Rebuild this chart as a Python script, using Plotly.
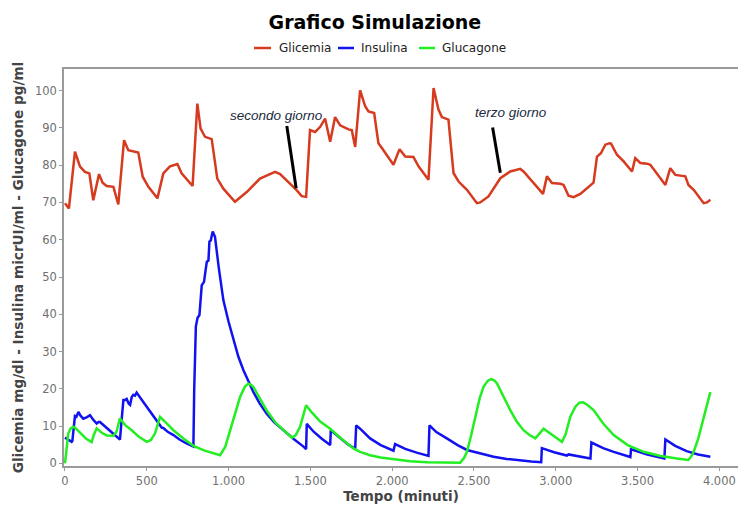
import plotly.graph_objects as go

# ---------------- data ----------------
t_gli = [0, 24, 61, 92, 122, 149, 173, 208, 230, 255, 296, 326, 361, 387, 448, 475, 510, 565, 601, 642,
         687, 713, 780, 809, 829, 856, 897, 931, 968, 1009, 1039, 1111, 1192, 1284, 1315, 1416, 1447, 1474,
         1498, 1529, 1560, 1590, 1621, 1651, 1682, 1733, 1753, 1774, 1804, 1835, 1855, 1890, 1916, 1937,
         2008, 2045, 2080, 2130, 2161, 2222, 2253, 2283, 2304, 2344, 2375, 2406, 2457, 2518, 2538, 2589,
         2661, 2722, 2783, 2803, 2864, 2922, 2946, 2977, 3028, 3048, 3078, 3109, 3150, 3211, 3231, 3252,
         3276, 3303, 3329, 3338, 3374, 3415, 3466, 3486, 3517, 3558, 3578, 3609, 3670, 3700, 3731, 3792,
         3811, 3843, 3904, 3924, 3945]
glicemia = [69.8, 68.4, 83.6, 79.6, 78.2, 77.8, 70.6, 77.6, 75.3, 74.4, 74.2, 69.5, 86.7, 84.0, 83.4, 76.9,
            74.2, 71.1, 77.8, 79.7, 80.3, 77.8, 74.4, 96.5, 89.8, 87.6, 87.0, 76.4, 73.7, 71.5, 70.2, 72.8,
            76.4, 78.2, 77.6, 73.3, 71.7, 71.5, 89.4, 88.9, 90.3, 92.5, 86.3, 92.9, 90.7, 89.6, 89.4, 84.9,
            100.1, 95.8, 94.4, 94.0, 85.9, 84.6, 80.1, 84.3, 82.3, 82.2, 79.7, 76.1, 100.7, 94.9, 92.9, 92.2,
            77.9, 75.6, 73.4, 69.8, 70.0, 71.6, 76.5, 78.3, 79.0, 78.3, 75.2, 72.3, 77.0, 75.2, 75.0, 74.7,
            71.8, 71.4, 72.3, 74.7, 75.3, 82.3, 83.2, 85.5, 85.9, 85.8, 82.8, 81.0, 78.3, 81.9, 80.6, 80.4,
            80.1, 78.3, 74.7, 79.2, 77.4, 77.0, 74.7, 73.4, 69.8, 70.0, 70.7]

t_ins = [0, 20, 41, 45, 55, 61, 70, 82, 95, 112, 135, 153, 175, 194, 205, 214, 245, 275, 305, 336, 345,
         357, 368, 377, 390, 398, 408, 418, 428, 438, 470, 500, 540, 581, 591, 601, 630, 663, 700, 740, 785,
         790, 800, 810, 822, 836, 850, 860, 867, 877, 883, 891, 903, 910, 917, 940, 968, 1000, 1029, 1060,
         1091, 1120, 1152, 1190, 1233, 1280, 1335, 1400, 1458, 1474, 1478, 1520, 1570, 1621, 1625, 1680,
         1730, 1774, 1780, 1804, 1865, 1930, 2008, 2018, 2080, 2150, 2222, 2228, 2270, 2334, 2400, 2457,
         2540, 2620, 2700, 2783, 2850, 2911, 2915, 2990, 3068, 3078, 3150, 3212, 3218, 3290, 3354, 3410,
         3456, 3460, 3560, 3664, 3670, 3730, 3800, 3870, 3945]
insulina = [6.9, 6.3, 5.8, 6.0, 11.5, 12.7, 12.5, 13.8, 12.8, 12.0, 12.4, 12.9, 11.6, 10.7, 11.1, 11.1,
            9.9, 8.8, 7.6, 6.4, 11.0, 17.0, 17.0, 17.3, 16.0, 15.7, 17.8, 18.4, 18.2, 19.0, 17.0, 15.2,
            12.6, 10.1, 9.6, 9.5, 8.4, 7.6, 6.4, 5.4, 4.5, 20.0, 36.7, 39.0, 39.8, 47.8, 48.7, 52.0, 54.1,
            54.4, 59.5, 59.8, 62.2, 61.5, 60.8, 52.5, 43.8, 38.0, 33.1, 28.6, 25.0, 22.0, 19.1, 16.1, 13.3,
            11.0, 8.9, 6.5, 4.5, 3.8, 10.6, 8.5, 6.6, 4.9, 8.9, 6.8, 5.1, 3.9, 10.2, 9.3, 6.7, 4.9, 3.4,
            5.2, 3.9, 2.9, 2.0, 10.2, 8.4, 6.7, 4.9, 3.6, 2.6, 1.8, 1.2, 0.7, 0.5, 0.3, 4.1, 3.0, 2.1, 2.4,
            1.8, 1.3, 5.6, 4.1, 3.1, 2.3, 1.7, 3.8, 2.4, 1.3, 6.4, 4.7, 3.3, 2.4, 1.8]

t_glu = [0, 10, 20, 35, 51, 61, 90, 130, 163, 175, 194, 225, 255, 296, 315, 336, 345, 370, 408, 450, 500,
         525, 550, 568, 581, 620, 663, 720, 785, 850, 920, 948, 980, 1009, 1040, 1070, 1100, 1121, 1140,
         1152, 1190, 1233, 1290, 1356, 1387, 1410, 1437, 1474, 1510, 1560, 1621, 1690, 1763, 1804, 1865,
         1930, 2008, 2110, 2212, 2320, 2416, 2440, 2457, 2480, 2508, 2535, 2559, 2585, 2606, 2625, 2640,
         2680, 2722, 2760, 2803, 2840, 2875, 2900, 2926, 2960, 3000, 3038, 3060, 3089, 3120, 3145, 3166,
         3190, 3231, 3290, 3354, 3440, 3537, 3640, 3741, 3790, 3811, 3830, 3843, 3870, 3894, 3920, 3945]
glucagone = [0.0, 5.0, 8.0, 9.4, 9.8, 9.6, 8.3, 6.6, 5.7, 7.5, 9.4, 8.2, 7.5, 7.4, 8.5, 12.1, 11.5, 10.2,
             8.9, 7.2, 5.8, 6.3, 8.0, 11.0, 12.5, 10.8, 8.9, 6.8, 4.7, 3.5, 2.5, 2.2, 4.5, 8.9, 13.5, 17.8,
             20.6, 21.4, 21.0, 20.5, 17.5, 14.2, 10.8, 8.0, 6.9, 7.5, 9.8, 15.6, 13.6, 11.2, 9.3, 6.6, 4.0,
             3.1, 2.2, 1.6, 1.1, 0.6, 0.3, 0.2, 0.2, 1.5, 3.1, 7.0, 12.5, 17.5, 20.6, 22.2, 22.6, 22.2, 21.5,
             17.8, 14.3, 11.3, 8.9, 7.6, 6.7, 8.0, 9.3, 8.2, 7.0, 5.8, 7.8, 12.5, 15.2, 16.3, 16.4, 15.8,
             14.3, 10.7, 7.6, 4.9, 3.1, 2.0, 1.3, 1.0, 0.9, 2.0, 3.1, 6.5, 10.7, 14.8, 19.1]

series_names = ["Glicemia", "Insulina", "Glucagone"]
series_colors = ["#d63a1f", "#1212f0", "#22ee22"]

x_tickvals = [0, 500, 1000, 1500, 2000, 2500, 3000, 3500, 4000]
x_ticktext = ["0", "500", "1.000", "1.500", "2.000", "2.500", "3.000", "3.500", "4.000"]
y_tickvals = [0, 10, 20, 30, 40, 50, 60, 70, 80, 90, 100]

note_texts = ["secondo giorno", "terzo giorno"]
note_pos = [(1292, 93.4), (2726, 94.0)]
note_lines = [((1356, 90.5), (1413, 73.8)), ((2614, 90.1), (2661, 78.0))]

# ---------------- figure ----------------
fig = go.Figure()
for xs, ys, name, col in [(t_gli, glicemia, series_names[0], series_colors[0]),
                          (t_ins, insulina, series_names[1], series_colors[1]),
                          (t_glu, glucagone, series_names[2], series_colors[2])]:
    fig.add_trace(go.Scatter(x=xs, y=ys, mode="lines", name=name,
                             line=dict(color=col, width=2.5), showlegend=False))

# annotation pointer lines
for (p0, p1) in note_lines:
    fig.add_shape(type="line", x0=p0[0], y0=p0[1], x1=p1[0], y1=p1[1], xref="x", yref="y",
                  line=dict(color="black", width=3))
for txt, (tx, ty) in zip(note_texts, note_pos):
    fig.add_annotation(x=tx, y=ty, xref="x", yref="y", text="<i>" + txt + "</i>", showarrow=False,
                       font=dict(family="Liberation Sans", size=13.5, color="#1b2a40"))

# custom legend (pixel-based, converted to paper coords)
L, R, T, B = 64, 0, 69, 41
W, H = 738, 507
pw, ph = W - L - R, H - T - B
def px2paper(px, py):
    return (px - L) / pw, (H - B - py) / ph

leg_items = [(254, 271, 277), (338, 354, 359), (419, 435, 440)]
for (l0, l1, tx), name, col in zip(leg_items, series_names, series_colors):
    x0, y0 = px2paper(l0, 48)
    x1, _ = px2paper(l1, 48)
    fig.add_shape(type="line", x0=x0, x1=x1, y0=y0, y1=y0, xref="paper", yref="paper",
                  line=dict(color=col, width=2.5))
    xt, _ = px2paper(tx, 48)
    fig.add_annotation(x=xt, y=y0, xref="paper", yref="paper", text=name, showarrow=False,
                       xanchor="left", yanchor="middle",
                       font=dict(family="DejaVu Sans", size=12, color="#222"))

fig.update_layout(
    width=W, height=H,
    margin=dict(l=L, r=R, t=T, b=B, autoexpand=False),
    paper_bgcolor="white", plot_bgcolor="white",
    title=dict(text="<b>Grafico Simulazione</b>", x=0.508, xref="container", xanchor="center",
               y=1 - 22 / H, yref="container", yanchor="middle",
               font=dict(family="DejaVu Sans", size=19, color="#000")),
    xaxis=dict(range=[-6, 4114], tickvals=x_tickvals, ticktext=x_ticktext, automargin=False,
               showgrid=False, zeroline=False, showline=True, linecolor="#9a9a9a", linewidth=1.5,
               mirror=True, ticks="outside", ticklen=3, tickcolor="#9a9a9a",
               tickfont=dict(family="DejaVu Sans", size=11.5, color="#707070"),
               title=dict(text="<b>Tempo (minuti)</b>", standoff=5,
                          font=dict(family="DejaVu Sans", size=13.5, color="#444"))),
    yaxis=dict(range=[-0.7, 105.8], tickvals=y_tickvals, automargin=False,
               showgrid=False, zeroline=False, showline=True, linecolor="#9a9a9a", linewidth=1.5,
               ticks="outside", ticklen=3, tickcolor="#9a9a9a",
               tickfont=dict(family="DejaVu Sans", size=11.5, color="#707070"),
               title=dict(text="<b>Glicemia mg/dl - Insulina micrUI/ml - Glucagone pg/ml</b>", standoff=8,
                          font=dict(family="DejaVu Sans", size=13.6, color="#444"))),
)

fig.write_html("out.html", config={"displayModeBar": False},
               post_script="document.body.style.margin='0';document.body.style.padding='0';")
